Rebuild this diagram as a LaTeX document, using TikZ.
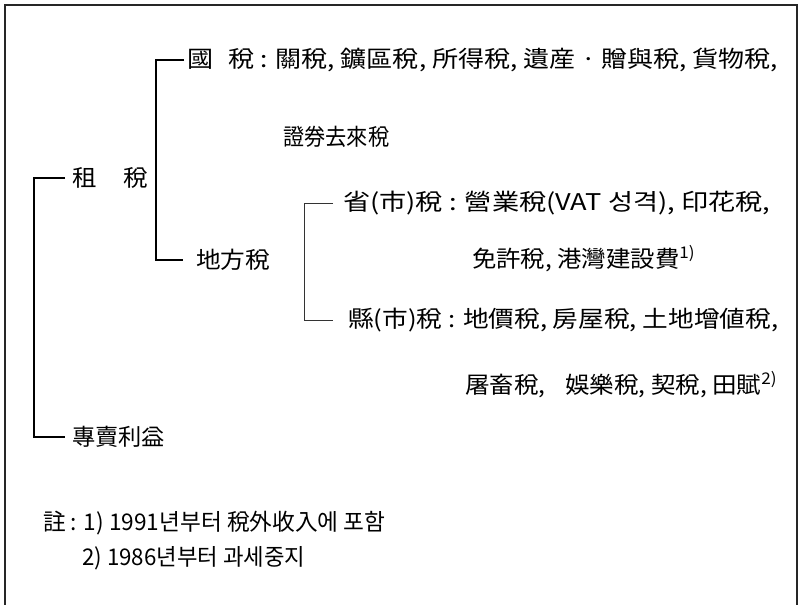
\documentclass[tikz,border=0pt]{standalone}
\usepackage{fontspec}
\usepackage{graphicx}
\setmainfont{Noto Sans CJK KR}
\newcommand\fitw[2]{\resizebox{#1pt}{\height}{#2}}
\begin{document}
\begin{tikzpicture}[x=1pt,y=-1pt,
  txt/.style={anchor=west,inner sep=0pt,font=\fontsize{23}{23}\selectfont},
  br/.style={line width=1.4pt,black},
  brthin/.style={line width=1pt,black!80}]
\useasboundingbox (0,0) rectangle (799,604);
% frame
\draw[line width=2pt,black!85] (5,610) -- (5,5) -- (797,5) -- (797,610);
% nodes
\node[txt] (zuse) at (72,178) {\fitw{76}{租\hspace{1.1em}稅}};
\node[txt] (zhuan) at (72,437) {\fitw{93}{專賣利益}};
\node[txt] (guo) at (187,60) {\fitw{591}{國\hspace{0.6em}稅 : 關稅, 鑛區稅, 所得稅, 遺産 · 贈與稅, 貨物稅,}};
\node[txt] (guo2) at (283,137) {\fitw{106}{證券去來稅}};
\node[txt] (difang) at (196,260) {\fitw{74}{地方稅}};
\node[txt] (sheng) at (343,203) {\fitw{427}{省(市)稅 : 營業稅(VAT 성격), 印花稅,}};
\node[txt] (sheng2) at (472,259) {\fitw{223}{免許稅, 港灣建設費\textsuperscript{1)}}};
\node[txt] (xian) at (348,320) {\fitw{430}{縣(市)稅 : 地價稅, 房屋稅, 土地增値稅,}};
\node[txt] (xian2) at (465,385) {\fitw{312}{屠畜稅,\hspace{0.8em}娛樂稅, 契稅, 田賦\textsuperscript{2)}}};
\node[txt] (note1) at (43,523) {\fitw{342}{註 : 1) 1991년부터 稅外收入에 포함}};
\node[txt] (note2) at (82,558) {\fitw{223}{2) 1986년부터 과세중지}};
% connectors
\coordinate (b0) at (34,0);
\coordinate (b1) at (156,0);
\coordinate (b2) at (304,0);
\draw[br] ([xshift=-7pt]zuse.west) -| (b0 |- zhuan.west) -- ([xshift=-7pt]zhuan.west);
\draw[br] ([xshift=-3pt]guo.west) -| (b1 |- difang.west) -- ([xshift=-13pt]difang.west);
\draw[brthin] ([xshift=-10pt]sheng.west) -| (b2 |- xian.west) -- ([xshift=-15pt]xian.west);
\end{tikzpicture}
\end{document}
